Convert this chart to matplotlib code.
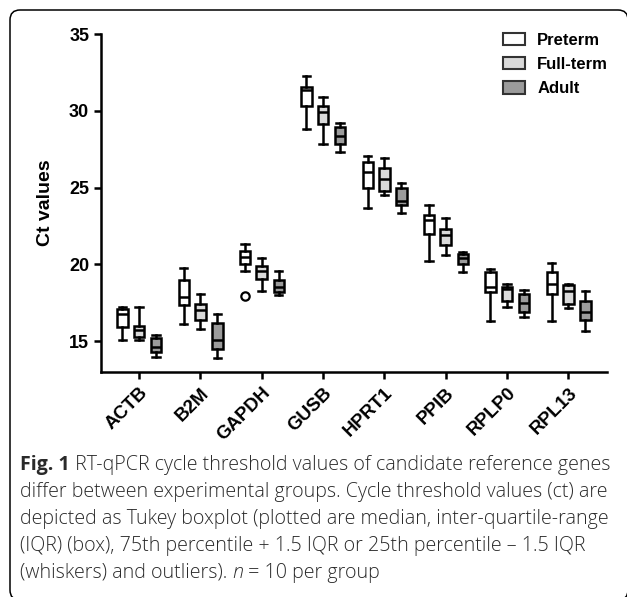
import matplotlib
matplotlib.use("Agg")
import matplotlib.pyplot as plt
from matplotlib.patches import Patch, FancyBboxPatch
from matplotlib.transforms import IdentityTransform

genes = ["ACTB", "B2M", "GAPDH", "GUSB", "HPRT1", "PPIB", "RPLP0", "RPL13"]
groups = ["Preterm", "Full-term", "Adult"]

# Ct values: whisker low, Q1, median, Q3, whisker high
preterm_lo = [15.1, 16.1, 19.6, 28.8, 23.7, 20.2, 16.3, 16.3]
preterm_q1 = [15.9, 17.35, 20.05, 30.3, 25.0, 22.0, 18.2, 18.05]
preterm_med = [16.75, 17.9, 20.5, 31.35, 26.0, 22.9, 18.5, 18.75]
preterm_q3 = [17.1, 19.0, 20.9, 31.55, 26.65, 23.2, 19.5, 19.5]
preterm_hi = [17.2, 19.75, 21.3, 32.25, 27.05, 23.85, 19.7, 20.1]

fullterm_lo = [15.1, 15.8, 18.3, 27.85, 24.5, 20.6, 17.25, 17.15]
fullterm_q1 = [15.3, 16.4, 19.05, 29.15, 24.75, 21.25, 17.65, 17.45]
fullterm_med = [15.75, 17.05, 19.6, 29.9, 25.55, 21.9, 18.4, 18.25]
fullterm_q3 = [16.0, 17.4, 19.9, 30.3, 26.25, 22.3, 18.5, 18.65]
fullterm_hi = [17.2, 18.05, 20.4, 30.9, 26.95, 23.0, 18.7, 18.75]

adult_lo = [14.0, 13.9, 18.0, 27.3, 23.35, 19.5, 16.55, 15.65]
adult_q1 = [14.3, 14.5, 18.2, 27.85, 23.85, 20.0, 16.9, 16.35]
adult_med = [14.65, 15.1, 18.5, 28.35, 24.15, 20.4, 17.5, 16.9]
adult_q3 = [15.2, 16.2, 19.0, 28.95, 24.95, 20.7, 18.05, 17.65]
adult_hi = [15.4, 16.75, 19.6, 29.2, 25.3, 20.8, 18.35, 18.3]

# outliers (gene index, group index, value)
outliers = [(2, 0, 17.95)]

colors = ["#ffffff", "#dadada", "#9b9b9b"]
offsets = [-0.27, 0.0, 0.28]

stats_by_group = [
    (preterm_lo, preterm_q1, preterm_med, preterm_q3, preterm_hi),
    (fullterm_lo, fullterm_q1, fullterm_med, fullterm_q3, fullterm_hi),
    (adult_lo, adult_q1, adult_med, adult_q3, adult_hi),
]

fig = plt.figure(figsize=(6.27, 5.97), dpi=100)
ax = fig.add_axes([0.161, 0.377, 0.807, 0.566])

lw = 1.8
for g, (lo, q1, med, q3, hi) in enumerate(stats_by_group):
    stats = []
    for i in range(len(genes)):
        fl = [v for (gi, gg, v) in outliers if gi == i and gg == g]
        stats.append(dict(whislo=lo[i], q1=q1[i], med=med[i], q3=q3[i],
                          whishi=hi[i], fliers=fl))
    pos = [i + offsets[g] for i in range(len(genes))]
    ax.bxp(stats, positions=pos, widths=0.17, patch_artist=True,
           showfliers=True, manage_ticks=False,
           boxprops=dict(facecolor=colors[g], edgecolor="black", linewidth=lw),
           medianprops=dict(color="black", linewidth=lw),
           whiskerprops=dict(color="black", linewidth=lw),
           capprops=dict(color="black", linewidth=lw),
           capwidths=0.12,
           flierprops=dict(marker="o", markerfacecolor="white",
                           markeredgecolor="black", markersize=6,
                           markeredgewidth=1.6))

ax.set_xlim(-0.62, 7.63)
ax.set_ylim(13.0, 35)
ax.set_yticks([15, 20, 25, 30, 35])
ax.set_xticks(range(len(genes)))
ax.set_xticklabels(genes, rotation=45, ha="right", rotation_mode="anchor",
                   fontsize=13.5, fontweight="bold", family="Liberation Sans")
for lab in ax.get_yticklabels():
    lab.set_fontsize(13)
    lab.set_fontweight("bold")
    lab.set_family("Liberation Sans")
ax.tick_params(axis="both", width=lw, length=5, direction="out")
ax.tick_params(axis="x", pad=4)
ax.spines["top"].set_visible(False)
ax.spines["right"].set_visible(False)
ax.spines["left"].set_linewidth(lw)
ax.spines["bottom"].set_linewidth(lw)
ax.set_ylabel("Ct values", fontsize=14, fontweight="bold",
              family="Liberation Sans", labelpad=11)

handles = [Patch(facecolor=c, edgecolor="#333333", linewidth=1.5) for c in colors]
fig.legend(handles, groups, loc="upper left", bbox_to_anchor=(503 / 627, 1 - 33 / 597),
           frameon=False, borderpad=0, borderaxespad=0, handlelength=1.3,
           handleheight=0.75, handletextpad=0.75, labelspacing=0.55,
           prop=dict(family="Liberation Sans", weight="bold", size=12))

# caption
cap_font = dict(family="Open Sans", size=14.1, color="#2a2a2a")
line_y = [465, 492, 519, 546, 573]
lines = [
    [("Fig. 1", "bold", "normal"),
     (" RT-qPCR cycle threshold values of candidate reference genes", "light", "normal")],
    [("differ between experimental groups. Cycle threshold values (ct) are", "light", "normal")],
    [("depicted as Tukey boxplot (plotted are median, inter-quartile-range", "light", "normal")],
    [("(IQR) (box), 75th percentile + 1.5 IQR or 25th percentile \u2013 1.5 IQR", "light", "normal")],
    [("(whiskers) and outliers). ", "light", "normal"), ("n", "light", "italic"),
     (" = 10 per group", "light", "normal")],
]
for y, parts in zip(line_y, lines):
    last = None
    for txt, wt, st in parts:
        if last is None:
            last = fig.text(20 / 627, 1 - y / 597, txt, va="center", ha="left",
                            fontweight=wt, style=st, **cap_font)
        else:
            last = ax.annotate(txt, xy=(1, 0.5), xycoords=last, va="center",
                               ha="left", fontweight=wt, style=st,
                               annotation_clip=False, **cap_font)

frame = FancyBboxPatch((10, -3), 618, 590, boxstyle="round,pad=0,rounding_size=10",
                       transform=IdentityTransform(), facecolor="none",
                       edgecolor="black", linewidth=1.1)
fig.patches.append(frame)

fig.savefig("out.png", dpi=100)
